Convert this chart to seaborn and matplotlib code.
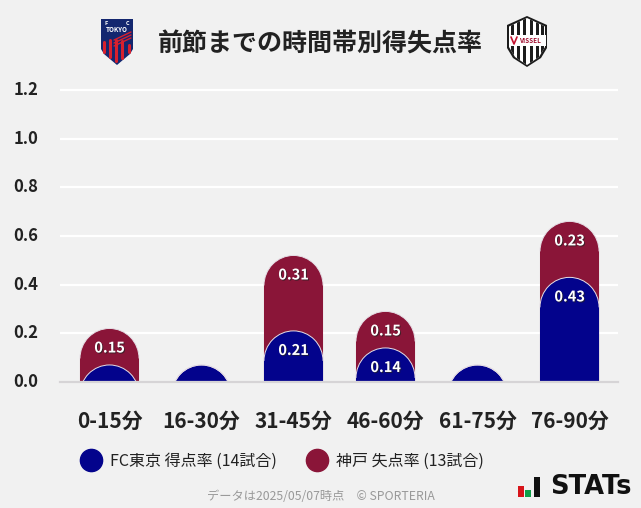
import matplotlib
matplotlib.use("Agg")
import matplotlib.pyplot as plt
import matplotlib.patheffects as pe
import numpy as np
import pandas as pd
import seaborn as sns
from matplotlib.lines import Line2D
from matplotlib.patches import PathPatch, Polygon, Rectangle
from matplotlib.path import Path
from matplotlib.transforms import Affine2D, ScaledTranslation

periods = ["0-15分", "16-30分", "31-45分", "46-60分", "61-75分", "76-90分"]
# the chart keeps a stub for empty periods, 0.07 is the height it is drawn at
scored = [0.07, 0.07, 0.21, 0.14, 0.07, 0.43]
conceded = [0.15, 0.0, 0.31, 0.15, 0.0, 0.23]
scored_labels = ["", "", "0.21", "0.14", "", "0.43"]
conceded_labels = ["0.15", "", "0.31", "0.15", "", "0.23"]
y_ticks = [0.0, 0.2, 0.4, 0.6, 0.8, 1.0, 1.2]

BG = "#f1f1f1"
BLUE = "#03038c"
RED = "#8a1538"
TEXT = "#222222"

sns.set_theme(style="white")
plt.rcParams["font.family"] = ["Noto Sans CJK JP", "DejaVu Sans"]


def round_top(ax, bar, color, radius_px=30):
    """Swap a seaborn bar for one with a domed top."""
    x, w, h = bar.get_x(), bar.get_width(), bar.get_height()
    bar.set_visible(False)
    ry = radius_px * 1.2 / 292
    arc = Path.arc(0, 180).transformed(
        Affine2D().scale(w / 2, ry).translate(x + w / 2, h - ry))
    verts = np.vstack([[[x + w, -1]], arc.vertices, [[x, -1]], [[x + w, -1]]])
    codes = [Path.MOVETO, Path.LINETO] + list(arc.codes[1:]) + [Path.LINETO, Path.CLOSEPOLY]
    ax.add_patch(PathPatch(Path(verts, codes), fc=color, ec="none", zorder=3))
    ax.add_patch(PathPatch(arc, fc="none", ec="#e6dfe6", lw=0.7, zorder=3.1))


def bar_labels(ax, tops, labels):
    for i, (top, label) in enumerate(zip(tops, labels)):
        if label:
            ax.annotate(label, (i, top), xytext=(0, -13.7), textcoords="offset points",
                        ha="center", va="center", color="white", fontsize=10.5,
                        fontweight="bold", zorder=5,
                        path_effects=[pe.withSimplePatchShadow(offset=(0.7, -0.7), shadow_rgbFace="#222222", alpha=0.7)])


def draw_logos(fig):
    over = fig.add_axes([0, 0, 1, 1], zorder=10)
    over.set_xlim(0, 641)
    over.set_ylim(508, 0)
    over.axis("off")

    # FC Tokyo crest
    shield = Polygon([(101, 19), (133, 19), (133, 49), (130, 54), (117, 65), (104, 54), (101, 49)],
                     fc="#14276f", ec="none")
    over.add_patch(shield)
    for x0, y0, x1, y1 in [(104, 52, 104, 42), (110, 57, 110, 40), (116, 61, 116, 40), (122, 58, 122, 41), (129, 52, 129, 45)]:
        line = Line2D([x0, x1], [y0, y1], color="#d8202e", lw=2.2)
        over.add_line(line)
    for y0 in [36, 39, 42]:
        over.add_line(Line2D([114, 131], [y0 + 4, y0 - 4], color="#d8202e", lw=1))
    over.text(106, 23.5, "F", color="white", fontsize=4, ha="center", va="center", fontweight="bold")
    over.text(128, 23.5, "C", color="white", fontsize=4, ha="center", va="center", fontweight="bold")
    over.text(117, 29, "TOKYO", color="white", fontsize=4.6, ha="center", va="center", fontweight="bold")

    # Vissel Kobe crest
    outline = [(507, 25), (527, 16), (547, 25), (547, 48), (541, 58), (527, 67), (513, 58), (507, 48)]
    over.add_patch(Polygon(outline, fc="#1c1c1c", ec="none"))
    inner = Polygon([(509, 26.5), (527, 18), (545, 26.5), (545, 47), (539, 57), (527, 65), (515, 57), (509, 47)],
                    fc="white", ec="none")
    over.add_patch(inner)
    for x0 in [512, 518, 524.5, 531, 537.5, 542]:
        over.add_patch(Rectangle((x0 - 1.5, 18), 3, 48, fc="#1c1c1c", ec="none", clip_path=inner))
    over.add_patch(Rectangle((508.5, 35), 37, 11, fc="white", ec="none"))
    over.add_line(Line2D([511, 514, 517], [37, 44, 37], color="#c4122f", lw=1.2))
    over.text(530, 40.5, "VISSEL", color="#a01030", fontsize=4.6, ha="center", va="center", fontweight="bold")

    # STATs mark
    over.add_patch(Rectangle((518, 486), 6, 11, fc="#d7141a", ec="none"))
    over.add_patch(Rectangle((525, 490), 6, 7, fc="#10a04a", ec="none"))
    over.add_patch(Rectangle((534, 477), 6, 20, fc="#111111", ec="none"))
    over.text(591, 487.5, "STATs", color="#111111", fontsize=18.5, ha="center", va="center",
              fontweight="bold", family="DejaVu Sans")


def main():
    df = pd.DataFrame({"period": periods, "scored": scored, "conceded": conceded})
    df["total"] = df["scored"] + df["conceded"]

    fig = plt.figure(figsize=(6.41, 5.08), dpi=100, facecolor=BG)
    ax = fig.add_axes([60 / 641, (508 - 382) / 508, 558 / 641, 292 / 508], facecolor=BG)

    sns.barplot(data=df, x="period", y="total", color=RED, saturation=1, width=0.642, ax=ax, zorder=2)
    red_bars = list(ax.patches)
    sns.barplot(data=df, x="period", y="scored", color=BLUE, saturation=1, width=0.642, ax=ax, zorder=2)
    blue_bars = list(ax.patches)[len(red_bars):]
    for bar in red_bars:
        round_top(ax, bar, RED)
    for bar in blue_bars:
        round_top(ax, bar, BLUE)

    bar_labels(ax, df["total"], conceded_labels)
    bar_labels(ax, df["scored"], scored_labels)

    ax.set_xlim(-0.538, 5.527)
    ax.set_ylim(0, 1.2)
    ax.set_yticks(y_ticks)
    ax.set_yticklabels([f"{v:.1f}" for v in y_ticks], fontsize=12, fontweight="bold", color=TEXT)
    ax.set_xlabel("")
    ax.set_ylabel("")
    ax.tick_params(axis="y", length=0, pad=15.5)
    ax.tick_params(axis="x", length=0, pad=20.7, labelsize=15, labelcolor=TEXT)
    for label in ax.get_xticklabels():
        label.set_fontweight("bold")
    # tick labels sit slightly above their gridlines in the reference
    nudge = ScaledTranslation(0, 1.5 / 72, fig.dpi_scale_trans)
    for label in ax.get_yticklabels():
        label.set_transform(label.get_transform() + nudge)
    ax.grid(axis="y", color="white", lw=1.6, zorder=1, clip_on=False, solid_capstyle="butt")
    ax.set_axisbelow(True)
    sns.despine(ax=ax, left=True, top=True, right=True)
    ax.spines["bottom"].set_color("#d6d4d6")
    ax.spines["bottom"].set_linewidth(1.6)
    ax.spines["bottom"].set_zorder(4)

    handles = [
        Line2D([], [], ls="none", marker="o", ms=16, color=BLUE, label="FC東京 得点率 (14試合)"),
        Line2D([], [], ls="none", marker="o", ms=16, color=RED, label="神戸 失点率 (13試合)"),
    ]
    fig.legend(handles=handles, ncol=2, frameon=False, fontsize=11.5, labelcolor=TEXT,
               loc="center left", bbox_to_anchor=(75 / 641, 1 - 461.5 / 508),
               handletextpad=0.19, columnspacing=1.5, borderpad=0, borderaxespad=0)

    fig.text(320.5 / 641, 1 - 44 / 508, "前節までの時間帯別得失点率", ha="center", va="center",
             fontsize=18, fontweight="bold", color=TEXT)
    fig.text(321 / 641, 1 - 497 / 508, "データは2025/05/07時点　© SPORTERIA", ha="center", va="center",
             fontsize=8.8, color="#999999")

    draw_logos(fig)
    fig.savefig("out.png", dpi=100, facecolor=BG)


if __name__ == "__main__":
    main()
